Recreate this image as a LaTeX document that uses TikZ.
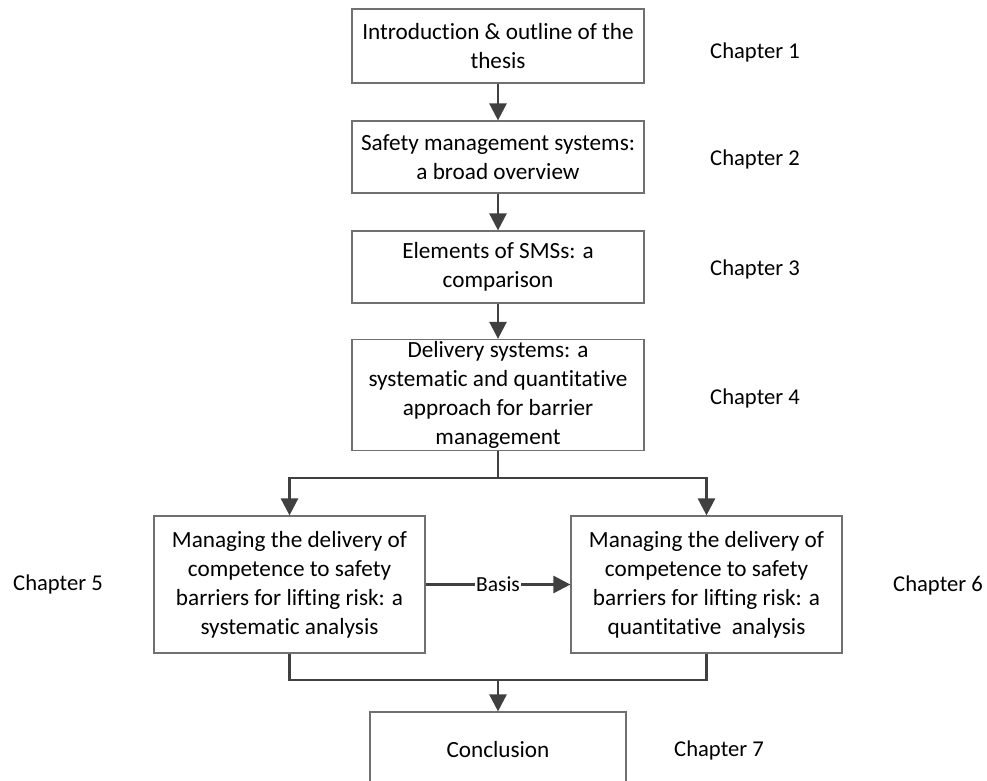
\documentclass[tikz,border=0pt]{standalone}
\usepackage{fontspec}
\setmainfont{Carlito}[Ligatures=NoCommon]
\usetikzlibrary{arrows.meta}
\definecolor{boxline}{HTML}{707070}
\definecolor{connline}{HTML}{404040}
\tikzset{
  chapbox/.style={draw=boxline, line width=1.2pt, rectangle, align=center,
    font=\fontsize{23.2}{29}\selectfont, inner sep=2pt},
  chaplabel/.style={font=\fontsize{22.6}{28}\selectfont, inner sep=0pt},
  conn/.style={draw=connline, line width=2.6pt,
    -{Triangle[length=17pt,width=17pt]}},
  plainconn/.style={draw=connline, line width=2.6pt}
}
\begin{document}
\begin{tikzpicture}[x=1pt,y=-1pt]
\clip (0,0) rectangle (987,780);
\fill[white] (0,0) rectangle (987,780);

% main column
\node[chapbox, minimum width=292pt, minimum height=74pt] (b1) at (498,46)
  {Introduction \& outline of the\\thesis};
\node[chapbox, minimum width=292pt, minimum height=72pt] (b2) at (498,157)
  {Safety management systems:\\a broad overview};
\node[chapbox, minimum width=292pt, minimum height=72pt] (b3) at (498,267)
  {Elements of SMSs: a\\comparison};
\node[chapbox, minimum width=292pt, minimum height=110pt] (b4) at (498,395)
  {Delivery systems: a\\systematic and quantitative\\approach for barrier\\management};

% the two parallel studies
\node[chapbox, minimum width=271pt, minimum height=137pt] (b5) at (289.5,584.5)
  {Managing the delivery of\\competence to safety\\barriers for lifting risk: a\\systematic analysis};
\node[chapbox, minimum width=271pt, minimum height=137pt] (b6) at (706.5,584.5)
  {Managing the delivery of\\competence to safety\\barriers for lifting risk: a\\quantitative\ \ analysis};

% closing chapter (runs past the lower edge)
\node[chapbox, minimum width=256pt, minimum height=76pt] (b7) at (498,750)
  {Conclusion};

% chapter labels
\node[chaplabel] (c1) at (755,52) {Chapter 1};
\node[chaplabel] (c2) at (755,159) {Chapter 2};
\node[chaplabel] (c3) at (755,269) {Chapter 3};
\node[chaplabel] (c4) at (755,398) {Chapter 4};
\node[chaplabel] (c5) at (58,584) {Chapter 5};
\node[chaplabel] (c6) at (938,585) {Chapter 6};
\node[chaplabel] (c7) at (719,750) {Chapter 7};

% connectors
\draw[conn] (b1) -- (b2);
\draw[conn] (b2) -- (b3);
\draw[conn] (b3) -- (b4);

\coordinate (split) at (498,478);
\coordinate (join) at (498,680);
\draw[plainconn] (b4.south) -- (split);
\draw[conn] (split) -| (b5.north);
\draw[conn] (split) -| (b6.north);

\draw[conn] (b5) -- node[fill=white, inner sep=1pt, font=\fontsize{21.5}{26}\selectfont] {Basis} (b6);

\draw[plainconn] (b5.south) |- (join);
\draw[plainconn] (b6.south) |- (join);
\draw[conn] (join) -- (b7);
\end{tikzpicture}
\end{document}
